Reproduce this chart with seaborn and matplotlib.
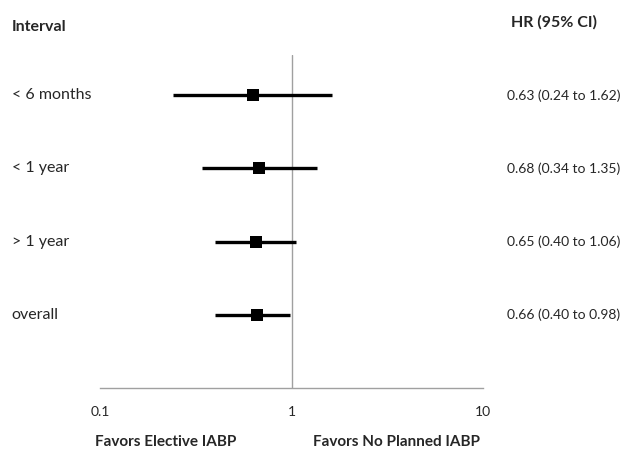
"""
Forest plot: hazard ratios by interval (elective vs no planned IABP)
"""

import numpy as np
import pandas as pd
import matplotlib
matplotlib.use('Agg')
import matplotlib.pyplot as plt
import matplotlib.transforms as mtransforms
import seaborn as sns

# Data
intervals = ['< 6 months', '< 1 year', '> 1 year', 'overall']
hr = [0.63, 0.68, 0.65, 0.66]
ci_low = [0.24, 0.34, 0.40, 0.40]
ci_high = [1.62, 1.35, 1.06, 0.98]
hr_labels = ['0.63 (0.24 to 1.62)', '0.68 (0.34 to 1.35)',
             '0.65 (0.40 to 1.06)', '0.66 (0.40 to 0.98)']
x_ticks = [0.1, 1, 10]
x_tick_labels = ['0.1', '1', '10']

# Style
sns.set_style("white")
plt.rcParams['font.family'] = ['Lato', 'DejaVu Sans']

df = pd.DataFrame({'interval': intervals, 'hr': hr, 'lo': ci_low, 'hi': ci_high})
df['row'] = np.arange(len(df))

fig = plt.figure(figsize=(6.23, 4.54), dpi=100)
ax = fig.add_axes([0.1605, 0.1454, 0.615, 0.7335])

# Reference line at HR = 1
ax.axvline(1, color='#a0a0a0', lw=1.0, zorder=1)

# Confidence intervals
ax.hlines(df['row'], df['lo'], df['hi'], color='black', lw=2.4, zorder=2)

# Point estimates
sns.scatterplot(data=df, x='hr', y='row', marker='s', s=75, color='black',
                edgecolor='black', linewidth=0, ax=ax, zorder=3, legend=False)

ax.set_xscale('log')
ax.set_xlim(0.1, 10)
ax.set_ylim(4.0, -0.55)
ax.set_xticks(x_ticks)
ax.set_xticklabels(x_tick_labels, fontsize=10)
ax.minorticks_off()
ax.set_yticks([])
ax.set_xlabel('')
ax.set_ylabel('')

for side in ['top', 'right', 'left']:
    ax.spines[side].set_visible(False)
ax.spines['bottom'].set_color('#a0a0a0')
ax.spines['bottom'].set_linewidth(1.0)
ax.tick_params(axis='x', direction='out', length=3, width=1, color='#a0a0a0', pad=10)

# Row labels and HR text
trans = mtransforms.blended_transform_factory(fig.transFigure, ax.transData)
for _, r in df.iterrows():
    ax.text(0.019, r['row'], r['interval'], transform=trans, fontsize=11.5,
            ha='left', va='center')
    ax.text(0.814, r['row'], hr_labels[int(r['row'])], transform=trans, fontsize=10,
            ha='left', va='center')

# Headers
fig.text(0.019, 1 - 27 / 454, 'Interval', fontsize=11.5, fontweight='bold',
         ha='left', va='center')
fig.text(0.820, 1 - 22 / 454, 'HR (95% CI)', fontsize=11.5, fontweight='bold',
         ha='left', va='center')

# Bottom annotations
fig.text(95 / 623, 1 - 442 / 454, 'Favors Elective IABP', fontsize=11,
         fontweight='bold', ha='left', va='center')
fig.text(313 / 623, 1 - 442 / 454, 'Favors No Planned IABP', fontsize=11,
         fontweight='bold', ha='left', va='center')

fig.savefig('out.png', dpi=100, facecolor='white')
plt.close(fig)
